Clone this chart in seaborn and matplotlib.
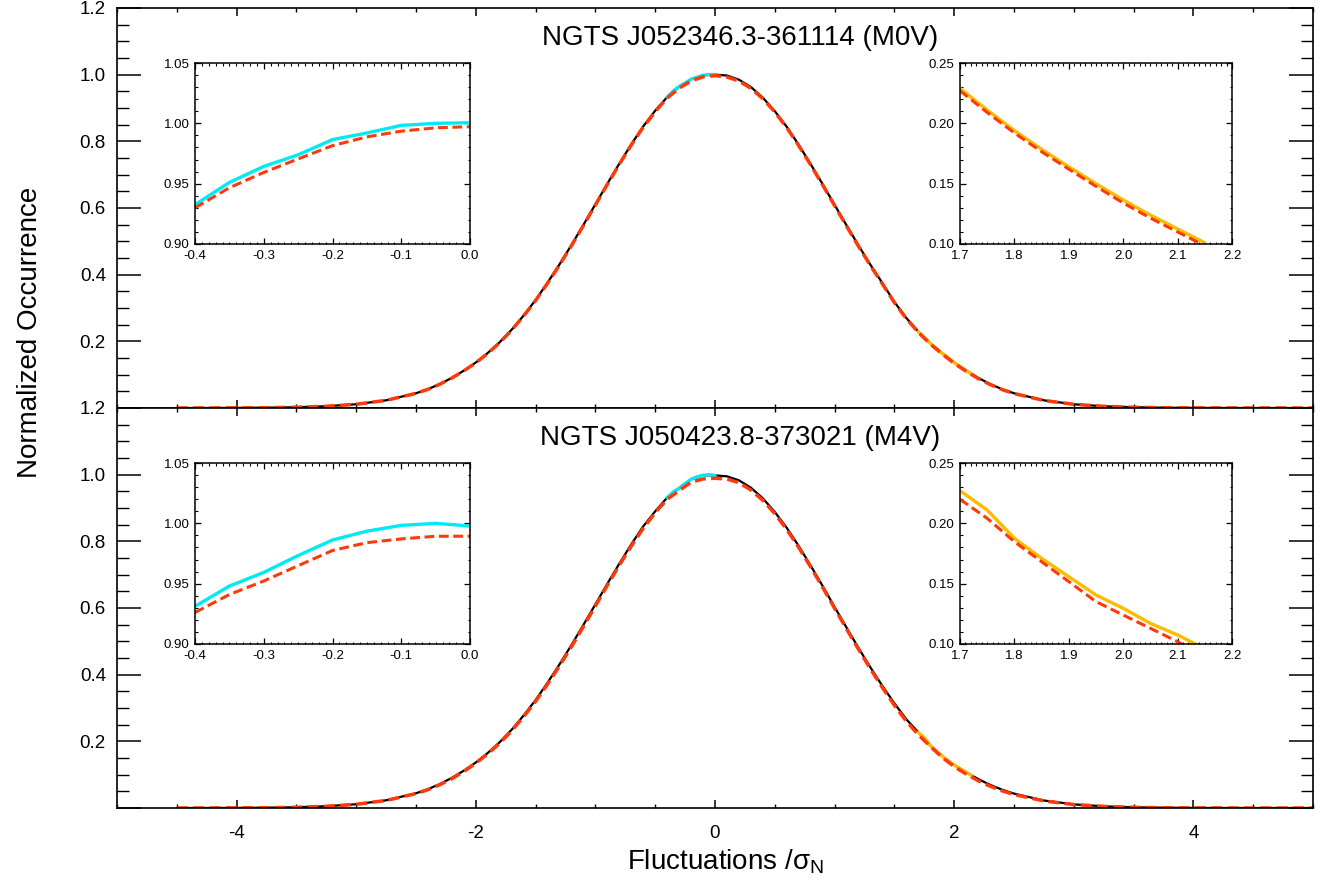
import numpy as np
import matplotlib
matplotlib.use("Agg")
import matplotlib.pyplot as plt
from matplotlib.ticker import MultipleLocator
import seaborn as sns

# main curves, x grid in sigma units (finer near the core)
x_main = [-4.5, -4.25, -4.0, -3.75, -3.5, -3.25, -3.0, -2.75,
          -2.5, -2.4, -2.3, -2.2, -2.1, -2.0, -1.9, -1.8, -1.7, -1.6,
          -1.5, -1.4, -1.3, -1.2, -1.1, -1.0, -0.9, -0.8, -0.7, -0.6,
          -0.5, -0.4, -0.3, -0.2, -0.1, 0.0,
          0.1, 0.2, 0.3, 0.4, 0.5, 0.6, 0.7, 0.8, 0.9, 1.0,
          1.1, 1.2, 1.3, 1.4, 1.5, 1.6, 1.7, 1.8, 1.9, 2.0,
          2.1, 2.2, 2.3, 2.4, 2.5,
          2.75, 3.0, 3.25, 3.5, 3.75, 4.0, 4.25, 4.5, 4.75, 5.0]

top_black = [0.0000, 0.0001, 0.0004, 0.0009, 0.0023, 0.0053, 0.0113, 0.0231,
             0.0442, 0.0565, 0.0720, 0.0905, 0.1120, 0.1365, 0.1650, 0.1975, 0.2350, 0.2775,
             0.3240, 0.3760, 0.4310, 0.4890, 0.5495, 0.6110, 0.6730, 0.7330, 0.7910, 0.8450,
             0.8920, 0.9326, 0.9643, 0.9865, 0.9983, 1.0000,
             0.9975, 0.9850, 0.9630, 0.9310, 0.8905, 0.8435, 0.7895, 0.7315, 0.6715, 0.6095,
             0.5480, 0.4875, 0.4295, 0.3745, 0.3180, 0.2700, 0.2290, 0.1940, 0.1640, 0.1365,
             0.1125, 0.0905, 0.0720, 0.0565, 0.0442,
             0.0230, 0.0112, 0.0052, 0.0023, 0.0009, 0.0004, 0.0001, 0.0000, 0.0000, 0.0000]
top_red = [0.0000, 0.0001, 0.0004, 0.0009, 0.0023, 0.0052, 0.0112, 0.0229,
           0.0439, 0.0561, 0.0715, 0.0899, 0.1113, 0.1355, 0.1637, 0.1960, 0.2335, 0.2760,
           0.3225, 0.3742, 0.4290, 0.4870, 0.5475, 0.6090, 0.6710, 0.7310, 0.7890, 0.8425,
           0.8890, 0.9300, 0.9593, 0.9815, 0.9935, 0.9972,
           0.9930, 0.9810, 0.9590, 0.9280, 0.8880, 0.8410, 0.7870, 0.7290, 0.6690, 0.6070,
           0.5455, 0.4850, 0.4270, 0.3720, 0.3160, 0.2680, 0.2270, 0.1920, 0.1620, 0.1340,
           0.1100, 0.0885, 0.0705, 0.0553, 0.0434,
           0.0226, 0.0110, 0.0051, 0.0022, 0.0009, 0.0003, 0.0001, 0.0000, 0.0000, 0.0000]

bot_black = [0.0000, 0.0001, 0.0004, 0.0009, 0.0023, 0.0053, 0.0113, 0.0231,
             0.0442, 0.0565, 0.0720, 0.0905, 0.1120, 0.1365, 0.1650, 0.1975, 0.2350, 0.2775,
             0.3240, 0.3760, 0.4310, 0.4890, 0.5495, 0.6110, 0.6730, 0.7330, 0.7910, 0.8450,
             0.8900, 0.9312, 0.9593, 0.9862, 0.9983, 0.9978,
             0.9950, 0.9830, 0.9610, 0.9290, 0.8880, 0.8405, 0.7860, 0.7270, 0.6660, 0.6030,
             0.5410, 0.4800, 0.4215, 0.3660, 0.3140, 0.2660, 0.2271, 0.1876, 0.1558, 0.1296,
             0.1075, 0.0870, 0.0695, 0.0550, 0.0432,
             0.0225, 0.0109, 0.0050, 0.0022, 0.0009, 0.0003, 0.0001, 0.0000, 0.0000, 0.0000]
bot_red = [0.0000, 0.0001, 0.0004, 0.0009, 0.0022, 0.0051, 0.0110, 0.0226,
           0.0432, 0.0550, 0.0700, 0.0880, 0.1095, 0.1345, 0.1625, 0.1945, 0.2315, 0.2740,
           0.3200, 0.3715, 0.4265, 0.4840, 0.5445, 0.6060, 0.6680, 0.7280, 0.7855, 0.8390,
           0.8860, 0.9261, 0.9522, 0.9775, 0.9871, 0.9893,
           0.9870, 0.9760, 0.9540, 0.9230, 0.8830, 0.8355, 0.7815, 0.7230, 0.6620, 0.5990,
           0.5370, 0.4760, 0.4170, 0.3610, 0.3080, 0.2600, 0.2199, 0.1848, 0.1517, 0.1240,
           0.1019, 0.0820, 0.0655, 0.0515, 0.0405,
           0.0212, 0.0103, 0.0048, 0.0021, 0.0008, 0.0003, 0.0001, 0.0000, 0.0000, 0.0000]

# zoomed pieces near the peak
x_peak = [-0.4, -0.35, -0.3, -0.25, -0.2, -0.15, -0.1, -0.05, 0.0]
top_cyan = [0.9326, 0.9510, 0.9643, 0.9739, 0.9865, 0.9920, 0.9983, 1.0000, 1.0005]
top_red_peak = [0.9300, 0.9466, 0.9593, 0.9705, 0.9815, 0.9888, 0.9935, 0.9963, 0.9972]
bot_cyan = [0.9312, 0.9480, 0.9593, 0.9733, 0.9862, 0.9935, 0.9983, 1.0000, 0.9978]
bot_red_peak = [0.9261, 0.9410, 0.9522, 0.9649, 0.9775, 0.9840, 0.9871, 0.9893, 0.9893]

# zoomed pieces on the wing
x_wing = [1.7, 1.75, 1.8, 1.85, 1.9, 1.95, 2.0, 2.05, 2.1, 2.15]
top_orange = [0.2290, 0.2110, 0.1940, 0.1785, 0.1640, 0.1500, 0.1365, 0.1240, 0.1125, 0.1010]
top_red_wing = [0.2270, 0.2090, 0.1920, 0.1765, 0.1620, 0.1478, 0.1340, 0.1215, 0.1100, 0.0985]
bot_orange = [0.2271, 0.2110, 0.1876, 0.1710, 0.1558, 0.1406, 0.1296, 0.1171, 0.1075, 0.0960]
bot_red_wing = [0.2199, 0.2041, 0.1848, 0.1682, 0.1517, 0.1351, 0.1240, 0.1130, 0.1019, 0.0900]

titles = ["NGTS J052346.3-361114 (M0V)", "NGTS J050423.8-373021 (M4V)"]

CYAN = "#00eaf2"
ORANGE = "#ffbb00"
RED = "#ff3a0a"

sns.set_style("ticks")
plt.rcParams['font.family'] = ['Liberation Sans', 'DejaVu Sans']
plt.rcParams['mathtext.fontset'] = 'custom'
plt.rcParams['mathtext.rm'] = 'Liberation Sans'
plt.rcParams['mathtext.it'] = 'Liberation Sans'
plt.rcParams['axes.unicode_minus'] = False
for k in ['text.color', 'axes.labelcolor', 'axes.edgecolor', 'xtick.color', 'ytick.color']:
    plt.rcParams[k] = 'black'

W, H = 1322, 889
fig = plt.figure(figsize=(W / 100, H / 100), dpi=100)


def fx(px):
    return px / W


def fy(py):
    return 1 - py / H


def dash_line(ax, x, y, lw):
    sns.lineplot(x=x, y=y, ax=ax, color=RED, lw=lw, linestyle=(0, (3.2, 1.5)),
                 sort=False, estimator=None)


panels = [
    (8, 408, top_black, top_red, top_cyan, top_red_peak, top_orange, top_red_wing),
    (408, 808, bot_black, bot_red, bot_cyan, bot_red_peak, bot_orange, bot_red_wing),
]

for i, (ptop, pbot, blk, red, cyan, redp, orng, redw) in enumerate(panels):
    ax = fig.add_axes([fx(117), fy(pbot), fx(1313 - 117), (pbot - ptop) / H])
    sns.lineplot(x=x_main, y=blk, ax=ax, color="black", lw=1.6, estimator=None)
    sns.lineplot(x=x_peak, y=cyan, ax=ax, color=CYAN, lw=2.4, estimator=None)
    sns.lineplot(x=x_wing, y=orng, ax=ax, color=ORANGE, lw=2.4, estimator=None)
    dash_line(ax, x_main, red, 2.5)
    ax.set_xlim(-5, 5)
    ax.set_ylim(0, 1.2)
    ax.set_yticks([0, 0.2, 0.4, 0.6, 0.8, 1.0, 1.2])
    ax.set_yticklabels(["", "0.2", "0.4", "0.6", "0.8", "1.0", "1.2"])
    ax.set_xticks([-4, -2, 0, 2, 4])
    ax.xaxis.set_minor_locator(MultipleLocator(0.5))
    ax.yaxis.set_minor_locator(MultipleLocator(0.05))
    ax.tick_params(which='both', direction='in', top=True, right=True, labelsize=13.5)
    ax.tick_params(axis='y', which='major', length=17, width=1.1, pad=8)
    ax.tick_params(axis='y', which='minor', length=8.5, width=1.0)
    ax.tick_params(axis='x', which='major', length=6, width=1.1, pad=12)
    ax.tick_params(axis='x', which='minor', length=3, width=1.0)
    for s in ax.spines.values():
        s.set_linewidth(1.2)
    if i == 0:
        ax.set_xticklabels([])
    ax.set_xlabel("")
    ax.set_ylabel("")
    fig.text(fx(740), fy(ptop + 30), titles[i], ha='center', va='center', fontsize=20)

    # insets
    itop, ibot = ptop + 55, ptop + 236
    ax1 = fig.add_axes([fx(195), fy(ibot), fx(470 - 195), (ibot - itop) / H])
    sns.lineplot(x=x_peak, y=cyan, ax=ax1, color=CYAN, lw=2.4, estimator=None)
    dash_line(ax1, x_peak, redp, 2.2)
    ax1.set_xlim(-0.4, 0.0)
    ax1.set_ylim(0.90, 1.05)
    ax1.set_xticks([-0.4, -0.3, -0.2, -0.1, 0.0])
    ax1.set_yticks([0.90, 0.95, 1.00, 1.05])
    ax1.set_yticklabels(["0.90", "0.95", "1.00", "1.05"])
    ax1.xaxis.set_minor_locator(MultipleLocator(0.01))
    ax1.yaxis.set_minor_locator(MultipleLocator(0.01))

    ax2 = fig.add_axes([fx(960), fy(ibot), fx(1232 - 960), (ibot - itop) / H])
    sns.lineplot(x=x_wing, y=orng, ax=ax2, color=ORANGE, lw=2.4, estimator=None)
    dash_line(ax2, x_wing, redw, 2.2)
    ax2.set_xlim(1.7, 2.2)
    ax2.set_ylim(0.10, 0.25)
    ax2.set_xticks([1.7, 1.8, 1.9, 2.0, 2.1, 2.2])
    ax2.set_yticks([0.10, 0.15, 0.20, 0.25])
    ax2.set_yticklabels(["0.10", "0.15", "0.20", "0.25"])
    ax2.xaxis.set_minor_locator(MultipleLocator(0.01))
    ax2.yaxis.set_minor_locator(MultipleLocator(0.01))

    for a in (ax1, ax2):
        a.tick_params(which='both', direction='in', top=True, right=True, labelsize=9.5)
        a.tick_params(which='major', length=4, width=0.9, pad=4)
        a.tick_params(which='minor', length=1.8, width=0.8)
        for s in a.spines.values():
            s.set_linewidth(1.1)
        a.set_xlabel("")
        a.set_ylabel("")

fig.text(fx(30), fy(332), "Normalized Occurrence", rotation=90, ha='center', va='center',
         fontsize=20)
fig.text(fx(725), fy(862), r"Fluctuations /$\sigma_{\rm N}$", ha='center', va='center',
         fontsize=20)

fig.savefig("out.png", dpi=100)
